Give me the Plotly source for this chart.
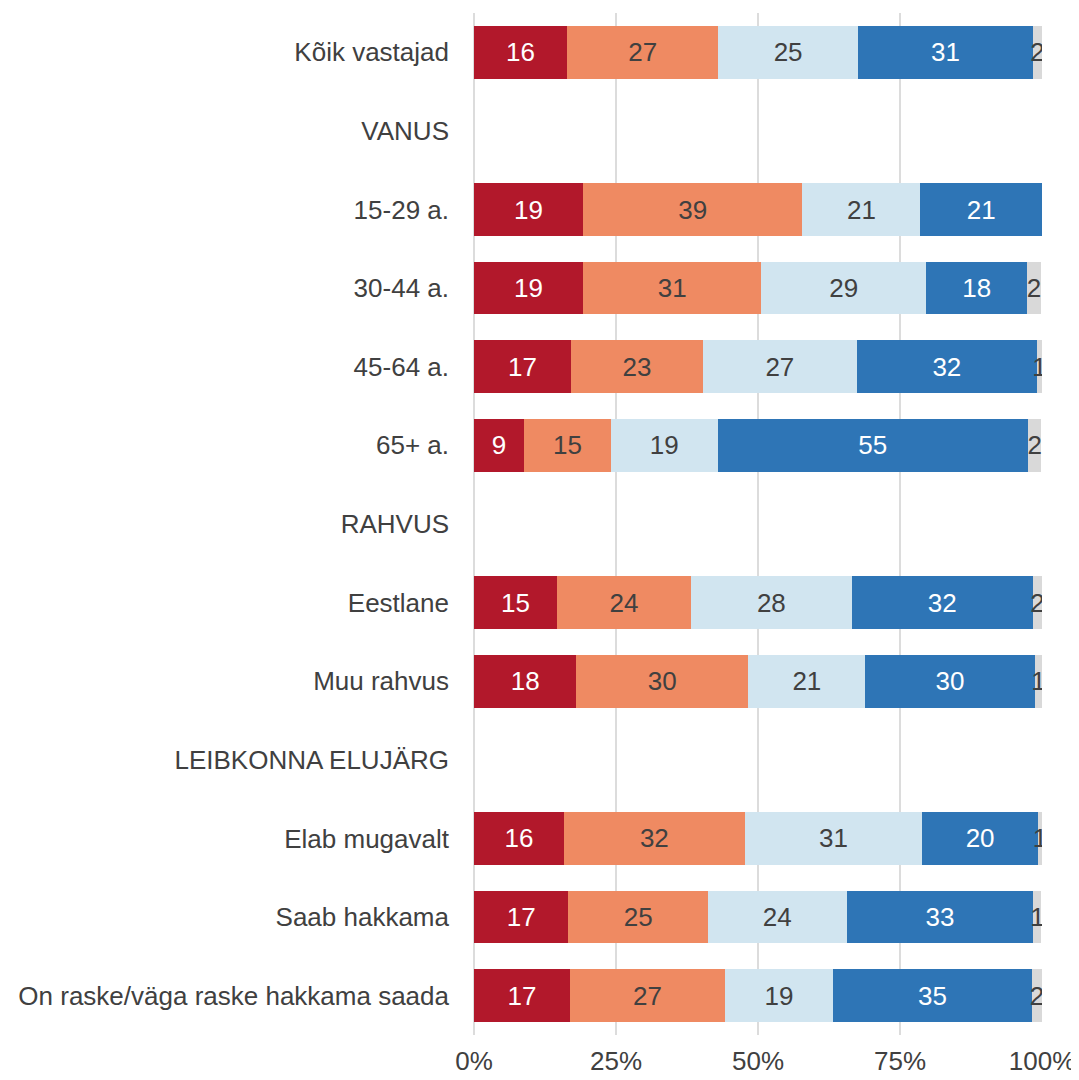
import plotly.graph_objects as go

categories = ["Kõik vastajad", "VANUS", "15-29 a.", "30-44 a.", "45-64 a.", "65+ a.",
              "RAHVUS", "Eestlane", "Muu rahvus", "LEIBKONNA ELUJÄRG",
              "Elab mugavalt", "Saab hakkama", "On raske/väga raske hakkama saada"]

s1 = [16.4, None, 19.2, 19.2, 17.1, 8.8, None, 14.6, 18.0, None, 15.8, 16.6, 16.9]
s2 = [26.6, None, 38.6, 31.4, 23.2, 15.3, None, 23.6, 30.3, None, 31.9, 24.6, 27.3]
s3 = [24.6, None, 20.8, 29.0, 27.1, 18.8, None, 28.3, 20.6, None, 31.2, 24.4, 19.0]
s4 = [30.8, None, 21.4, 17.8, 31.7, 54.6, None, 31.9, 29.8, None, 20.4, 32.9, 35.0]
s5 = [1.6, None, 0.0, 2.4, 0.9, 2.4, None, 1.6, 1.4, None, 0.7, 1.4, 1.8]

series = [s1, s2, s3, s4, s5]
colors = ["#b2182b", "#ef8a62", "#d1e5f0", "#2e75b6", "#d9d9d9"]
text_colors = ["#ffffff", "#404040", "#404040", "#ffffff", "#404040"]

FONT = "Liberation Sans, Arial, sans-serif"
FS = 26

fig = go.Figure()
for vals, col, tcol in zip(series, colors, text_colors):
    labels = ["" if (v is None or v < 0.5) else f"{round(v):d}" for v in vals]
    fig.add_trace(go.Bar(
        y=categories, x=vals, orientation="h",
        marker=dict(color=col, line=dict(width=0)),
        text=labels, textposition="inside", insidetextanchor="middle",
        textfont=dict(color=tcol, size=FS, family=FONT),
        cliponaxis=True, showlegend=False, hoverinfo="skip",
    ))

# page body adds an 8px offset, so the figure is sized to the remaining window
fig.update_layout(
    barmode="stack", bargap=0.33,
    width=1071, height=1072,
    margin=dict(l=466, r=37, t=5, b=45),
    plot_bgcolor="white", paper_bgcolor="white",
    uniformtext=dict(minsize=FS, mode="show"),
    font=dict(family=FONT, size=FS, color="#404040"),
)
fig.update_xaxes(
    range=[0, 100], tickvals=[0, 25, 50, 75, 100],
    ticktext=["0%", "25%", "50%", "75%", "100%"],
    showgrid=True, gridcolor="#dcdcdc", gridwidth=2,
    zeroline=True, zerolinecolor="#dcdcdc", zerolinewidth=2,
    showline=False, ticks="", ticklabelstandoff=8, automargin=False,
    tickfont=dict(size=FS, color="#404040"),
    fixedrange=True,
)
fig.update_yaxes(
    categoryorder="array", categoryarray=categories, autorange="reversed",
    showgrid=False, showline=False, ticks="", ticklabelstandoff=24, automargin=False,
    tickfont=dict(size=FS, color="#404040"),
)

fig.write_html("out.html")
